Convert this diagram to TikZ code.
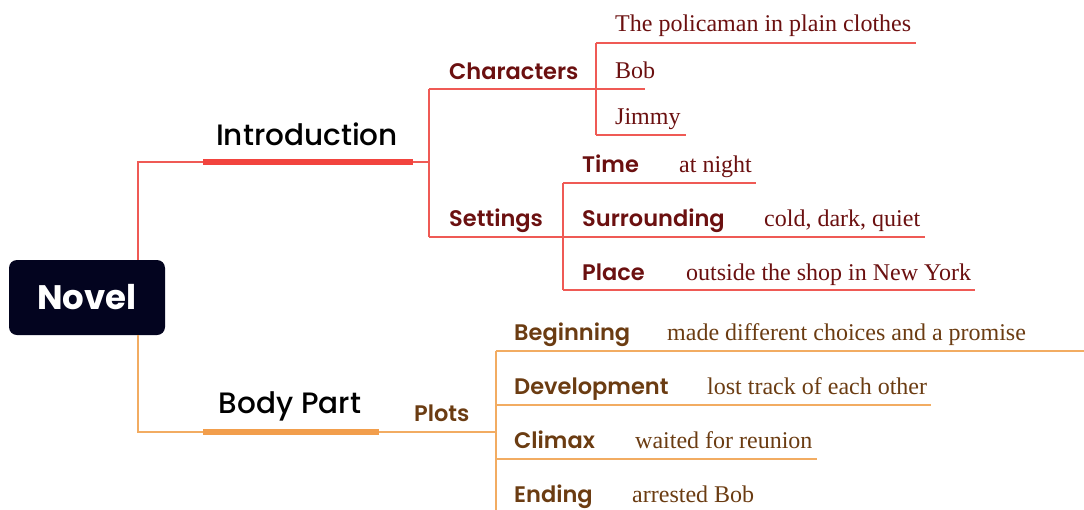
\documentclass[tikz,border=0pt]{standalone}
\usepackage{fontspec}
\setmainfont{Liberation Serif}
\newfontfamily\pop{Poppins}
\newfontfamily\popm{Poppins Medium}
\newfontfamily\pops{Poppins SemiBold}
\definecolor{rline}{HTML}{EF5A55}
\definecolor{rbar}{HTML}{F2443E}
\definecolor{mar}{HTML}{6B1010}
\definecolor{oline}{HTML}{F2AC62}
\definecolor{obar}{HTML}{F29E4C}
\definecolor{brt}{HTML}{6B3C12}
\definecolor{navyfill}{HTML}{03041F}
\tikzset{
  rootbox/.style={fill=navyfill, rounded corners=8pt, minimum width=156pt, minimum height=75pt, inner sep=0pt, text=white, font=\pop\bfseries\fontsize{34}{40}\selectfont},
  lone/.style={inner sep=0pt, anchor=base, text=black, font=\popm\fontsize{29.5}{36}\selectfont},
  lab/.style={inner sep=0pt, anchor=base west, font=\pops\fontsize{22.5}{28}\selectfont},
  leaf/.style={inner sep=0pt, anchor=base west, font=\fontsize{24}{28}\selectfont},
  rthin/.style={draw=rline, line width=1.3pt},
  othin/.style={draw=oline, line width=1.3pt},
  rthick/.style={draw=rbar, line width=6pt},
  othick/.style={draw=obar, line width=6pt},
}
\begin{document}
\begin{tikzpicture}[x=1pt,y=-1pt]
\useasboundingbox (0,0) rectangle (1084,509);
% root
\node[rootbox] (novel) at (87,297.5) {Novel};
% level one
\node[lone] (intro) at (307,145) {Introduction};
\node[lone] (body) at (290,413) {Body Part};
\coordinate (iL) at (203,162); \coordinate (iR) at (413,162); \coordinate (iJ) at (429,162);
\coordinate (bL) at (203,432); \coordinate (bR) at (379,432); \coordinate (bJ) at (496,432);
\draw[rthin] ([xshift=51pt]novel.north) |- (iL);
\draw[othin] ([xshift=51pt]novel.south) |- (bL);
\draw[rthin] (iR) -- (iJ);
\draw[othin] (bR) -- (bJ);
\draw[rthick] (iL) -- (iR);
\draw[othick] (bL) -- (bR);
% introduction branch
\node[lab, text=mar] (chars) at (449,79) {Characters};
\node[lab, text=mar] (sett) at (449,226) {Settings};
\coordinate (cL) at (429,89); \coordinate (cR) at (645,89);
\coordinate (sL) at (429,237);
\draw[rthin] (cL) -- (sL);
\draw[rthin] (cL) -- (cR);
% characters
\node[leaf, text=mar] (pol) at (615,31) {The policaman in plain clothes};
\node[leaf, text=mar] (bob) at (615,78) {Bob};
\node[leaf, text=mar] (jim) at (615,124) {Jimmy};
\coordinate (pL) at (596,43); \coordinate (pR) at (916,43);
\coordinate (jL) at (596,135); \coordinate (jR) at (686,135);
\draw[rthin] (pL) -- (jL);
\draw[rthin] (pL) -- (pR);
\draw[rthin] (jL) -- (jR);
% settings
\node[lab, text=mar] (time) at (582,172) {Time};
\node[leaf, text=mar] (night) at (679,172) {at night};
\node[lab, text=mar] (surr) at (582,226) {Surrounding};
\node[leaf, text=mar] (cold) at (764,226) {cold, dark, quiet};
\node[lab, text=mar] (place) at (582,280) {Place};
\node[leaf, text=mar] (shop) at (686,280) {outside the shop in New York};
\coordinate (tL) at (563,183); \coordinate (tR) at (756,183);
\coordinate (uR) at (925,237);
\coordinate (aL) at (563,290); \coordinate (aR) at (975,290);
\draw[rthin] (tL) -- (aL);
\draw[rthin] (tL) -- (tR);
\draw[rthin] (sL) -- (uR);
\draw[rthin] (aL) -- (aR);
% body part branch
\node[lab, text=brt] (plots) at (414,421) {Plots};
\node[lab, text=brt] (beg) at (514,340) {Beginning};
\node[leaf, text=brt] (begt) at (667,340) {made different choices and a promise};
\node[lab, text=brt] (dev) at (514,394) {Development};
\node[leaf, text=brt] (devt) at (707,394) {lost track of each other};
\node[lab, text=brt] (cli) at (514,448) {Climax};
\node[leaf, text=brt] (clit) at (635,448) {waited for reunion};
\node[lab, text=brt] (end) at (514,502) {Ending};
\node[leaf, text=brt] (endt) at (632,502) {arrested Bob};
\coordinate (gL) at (496,351); \coordinate (gR) at (1084,351);
\coordinate (dL) at (496,405); \coordinate (dR) at (931,405);
\coordinate (kL) at (496,459); \coordinate (kR) at (817,459);
\coordinate (eL) at (496,510);
\draw[othin] (gL) -- (eL);
\draw[othin] (gL) -- (gR);
\draw[othin] (dL) -- (dR);
\draw[othin] (kL) -- (kR);
\end{tikzpicture}
\end{document}
